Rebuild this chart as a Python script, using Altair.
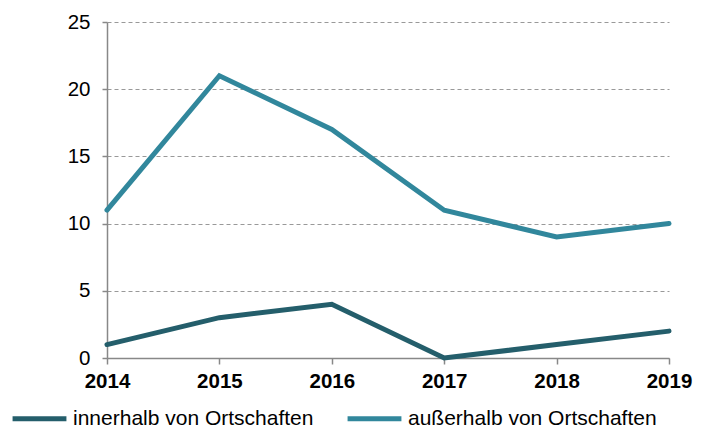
import altair as alt
import pandas as pd

years = [2014, 2015, 2016, 2017, 2018, 2019]
innerhalb = [1, 3, 4, 0, 1, 2]
ausserhalb = [11, 21, 17, 11, 9, 10]
series_names = ["innerhalb von Ortschaften", "außerhalb von Ortschaften"]
colors = ["#245e6b", "#31879c"]

rows = []
for y, v in zip(years, innerhalb):
    rows.append({"Jahr": y, "Wert": v, "Serie": series_names[0]})
for y, v in zip(years, ausserhalb):
    rows.append({"Jahr": y, "Wert": v, "Serie": series_names[1]})
df = pd.DataFrame(rows)

FS = 20.5

chart = alt.Chart(df).mark_line(strokeWidth=5, strokeCap="round", strokeJoin="miter").encode(
    x=alt.X("Jahr:Q", scale=alt.Scale(domain=[2014, 2019], nice=False, zero=False),
            axis=alt.Axis(values=years, format="d", title=None, grid=False,
                          labelFont="Liberation Sans", labelFontSize=FS, labelFontWeight="bold",
                          labelColor="#000", labelPadding=7, tickSize=6, tickColor="#888",
                          domainColor="#888", domainWidth=1.5, tickWidth=1.5, labelFlush=False)),
    y=alt.Y("Wert:Q", scale=alt.Scale(domain=[0, 25], nice=False),
            axis=alt.Axis(values=[0, 5, 10, 15, 20, 25], title=None, grid=True,
                          gridDash=[4, 3], gridColor="#999", gridWidth=1,
                          labelFont="Liberation Sans", labelFontSize=FS, labelColor="#000",
                          labelPadding=12, tickSize=5, tickColor="#888", tickWidth=1.5,
                          domainColor="#888", domainWidth=1.5)),
    color=alt.Color("Serie:N", scale=alt.Scale(domain=series_names, range=colors),
                    sort=series_names,
                    legend=alt.Legend(title=None, orient="none", direction="horizontal",
                                      legendX=-97, legendY=367, padding=0,
                                      symbolType="stroke", symbolSize=2900, symbolStrokeWidth=5,
                                      labelFont="Liberation Sans", labelFontSize=21,
                                      labelColor="#000", labelOffset=4, columnPadding=23,
                                      labelLimit=400)),
).properties(
    width=562, height=336,
    autosize=alt.AutoSizeParams(type="none"),
    padding={"left": 99, "top": 14, "right": 30, "bottom": 70},
).configure_view(stroke=None)

chart.save("out.html", embed_options={"renderer": "svg", "actions": False})
